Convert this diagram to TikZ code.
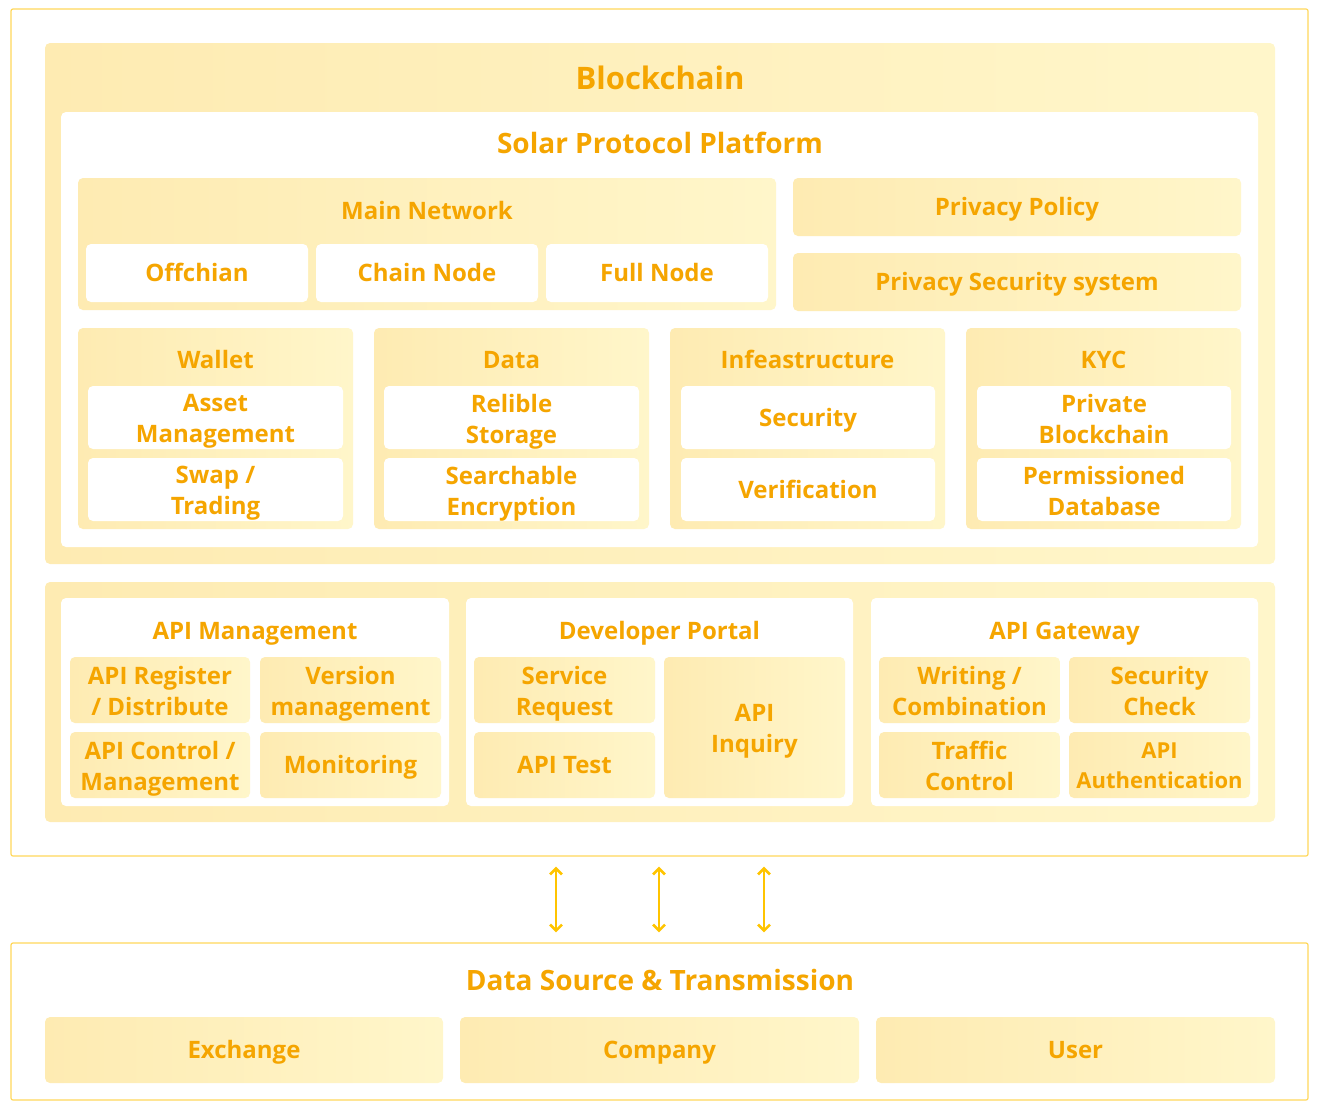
\documentclass[tikz,border=0pt]{standalone}
\usepackage{fontspec}
\setsansfont{Open Sans}
\usetikzlibrary{arrows.meta}
\definecolor{yA}{HTML}{FEEBB2}
\definecolor{yB}{HTML}{FFF6CA}
\definecolor{tC}{HTML}{F5A500}
\definecolor{frameC}{HTML}{FFD75A}
\definecolor{arrC}{HTML}{FFC400}
\tikzset{
  frame/.style={draw=frameC, line width=0.6pt, rounded corners=1pt, inner sep=0pt},
  txt/.style={text=tC, font=\sffamily\bfseries\fontsize{12}{15.5}\selectfont, align=center,
    inner sep=0pt, text depth=3pt, execute at begin node={\rule{0pt}{11.6pt}}},
  two/.style={yshift=-2pt},
  ybox/.style={left color=yA, right color=yB, draw=none, rounded corners=2.5pt, inner sep=0pt},
  wbox/.style={fill=white, draw=none, rounded corners=2.5pt, inner sep=0pt},
  ttl/.style={txt},
  bigttl/.style={txt, font=\sffamily\bfseries\fontsize{14}{17}\selectfont, execute at begin node={\rule{0pt}{13pt}}},
  hugettl/.style={txt, font=\sffamily\bfseries\fontsize{15.5}{18}\selectfont, execute at begin node={\rule{0pt}{14.1pt}}},
  arr/.style={draw=arrC, line width=1.3pt, {Straight Barb[length=3pt,width=6pt]}-{Straight Barb[length=3pt,width=6pt]}, shorten <=5pt, shorten >=5pt}
}
% boxstyle, name, x1, y1, x2, y2, textopts, text
\newcommand\bx[8]{\node[#1, minimum width={(#5-#3)*0.5pt}, minimum height={(#6-#4)*0.5pt}] (#2) at ({(#3+#5)/2},{(#4+#6)/2}) {};
  \node[txt,#7] (#2t) at (#2.center) {#8};}
\newcommand\cbox[6]{\node[#1, minimum width={(#5-#3)*0.5pt}, minimum height={(#6-#4)*0.5pt}] (#2) at ({(#3+#5)/2},{(#4+#6)/2}) {};}
\begin{document}
\begin{tikzpicture}[x=0.5pt,y=-0.5pt]
\useasboundingbox (0,0) rectangle (1320,1110);
% top frame
\cbox{frame}{top}{11}{9}{1308}{856}
\cbox{ybox}{bc}{45}{43}{1275}{564}
\node[hugettl] (bct) at (660,78) {Blockchain};
\cbox{wbox}{spp}{61}{112}{1258}{547}
\node[bigttl] (sppt) at (660,143) {Solar Protocol Platform};
% main network
\cbox{ybox}{mn}{78}{178}{776}{310}
\node[ttl] (mnt) at (427,211) {Main Network};
\bx{wbox}{off}{86}{244}{308}{302}{}{Offchian}
\bx{wbox}{cn}{316}{244}{538}{302}{}{Chain Node}
\bx{wbox}{fn}{546}{244}{768}{302}{}{Full Node}
\bx{ybox}{pp}{793}{178}{1241}{236}{}{Privacy Policy}
\bx{ybox}{pss}{793}{253}{1241}{311}{}{Privacy Security system}
% wallet
\cbox{ybox}{wal}{78}{328}{353}{529}
\node[ttl] (walt) at (215.5,360) {Wallet};
\bx{wbox}{am}{88}{386}{343}{449}{two}{Asset\\Management}
\bx{wbox}{swap}{88}{458}{343}{521}{two}{Swap /\\Trading}
% data
\cbox{ybox}{dat}{374}{328}{649}{529}
\node[ttl] (datt) at (511.5,360) {Data};
\bx{wbox}{rs}{384}{386}{639}{449}{two}{Relible\\Storage}
\bx{wbox}{se}{384}{458}{639}{521}{two}{Searchable\\Encryption}
% infra
\cbox{ybox}{inf}{670}{328}{945}{529}
\node[ttl] (inft) at (807.5,360) {Infeastructure};
\bx{wbox}{sec}{681}{386}{935}{449}{}{Security}
\bx{wbox}{ver}{681}{458}{935}{521}{}{Verification}
% kyc
\cbox{ybox}{kyc}{966}{328}{1241}{529}
\node[ttl] (kyct) at (1103.5,360) {KYC};
\bx{wbox}{pb}{977}{386}{1231}{449}{two}{Private\\Blockchain}
\bx{wbox}{pd}{977}{458}{1231}{521}{two}{Permissioned\\Database}
% API band
\cbox{ybox}{band}{45}{582}{1275}{822}
\cbox{wbox}{apim}{61}{598}{449}{806}
\node[ttl] (apimt) at (255,631) {API Management};
\bx{ybox}{reg}{70}{657}{250}{723}{two}{API Register\\/ Distribute}
\bx{ybox}{vm}{260}{657}{441}{723}{two}{Version\\management}
\bx{ybox}{ctl}{70}{732}{250}{798}{two}{API Control /\\Management}
\bx{ybox}{mon}{260}{732}{441}{798}{}{Monitoring}
\cbox{wbox}{dev}{466}{598}{853}{806}
\node[ttl] (devt) at (659.5,631) {Developer Portal};
\bx{ybox}{sr}{474}{657}{655}{723}{two}{Service\\Request}
\bx{ybox}{at}{474}{732}{655}{798}{}{API Test}
\bx{ybox}{ai}{664}{657}{845}{798}{two}{API\\Inquiry}
\cbox{wbox}{gw}{871}{598}{1258}{806}
\node[ttl] (gwt) at (1064.5,631) {API Gateway};
\bx{ybox}{wc}{879}{657}{1060}{723}{two}{Writing /\\Combination}
\bx{ybox}{sc}{1069}{657}{1250}{723}{two}{Security\\Check}
\bx{ybox}{tc}{879}{732}{1060}{798}{two}{Traffic\\Control}
\bx{ybox}{aa}{1069}{732}{1250}{798}{two, font=\sffamily\bfseries\fontsize{11}{15}\selectfont}{API\\Authentication}
% bottom frame
\cbox{frame}{bot}{11}{943}{1308}{1100}
\node[bigttl] (bott) at (660,980) {Data Source \& Transmission};
\bx{ybox}{ex}{45}{1017}{443}{1083}{}{Exchange}
\bx{ybox}{co}{460}{1017}{859}{1083}{}{Company}
\bx{ybox}{us}{876}{1017}{1275}{1083}{}{User}
% arrows
\draw[arr] ([xshift=-51.75pt]top.south) -- ([xshift=-51.75pt]bot.north);
\draw[arr] ([xshift=-0.25pt]top.south) -- ([xshift=-0.25pt]bot.north);
\draw[arr] ([xshift=52.25pt]top.south) -- ([xshift=52.25pt]bot.north);
\end{tikzpicture}
\end{document}
